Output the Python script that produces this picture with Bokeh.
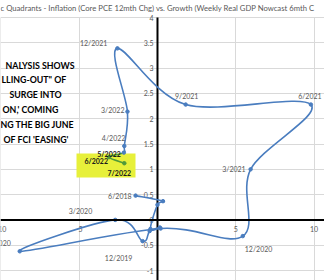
import numpy as np
from bokeh.plotting import figure
from bokeh.models import Label, BoxAnnotation, FixedTicker, Span, ColumnDataSource
from bokeh.core.properties import value
from bokeh.embed import file_html
from bokeh.resources import INLINE

# ---------------- data ----------------
dates = ["6/2018", "9/2018", "12/2018", "3/2019", "6/2019", "9/2019", "12/2019",
         "3/2020", "6/2020", "9/2020", "12/2020", "3/2021", "6/2021", "9/2021",
         "12/2021", "3/2022", "4/2022", "5/2022", "6/2022", "7/2022"]
growth = [-1.4, 0.35, 0.0, -0.45, 0.15, -0.5, -0.95,
          -2.7, -8.8, 0.2, 5.45, 5.95, 9.8, 1.8,
          -2.56, -1.92, -2.12, -2.15, -3.1, -2.12]
inflation = [0.48, 0.37, 0.3, -0.18, -0.15, -0.22, -0.42,
             0.0, -0.62, -0.17, -0.32, 1.0, 2.28, 2.28,
             3.39, 2.14, 1.46, 1.33, 1.24, 1.12]

labelled = ["6/2018", "12/2019", "3/2020", "6/2020", "12/2020", "3/2021", "6/2021",
            "9/2021", "12/2021", "3/2022", "4/2022", "5/2022", "6/2022", "7/2022"]
highlighted = ["5/2022", "6/2022", "7/2022"]

x_ticks = [-10, -5, 5, 10]
x_tick_labels = ["-10", "-5", "5", "10"]
y_ticks = [-1, -0.5, 0, 0.5, 1, 1.5, 2, 2.5, 3, 3.5, 4]
y_tick_labels = ["-1", "-0.5", "0", "0.5", "1", "1.5", "2", "2.5", "3", "3.5", "4"]

title_text = "c Quadrants - Inflation (Core PCE 12mth Chg) vs. Growth (Weekly Real GDP Nowcast 6mth C"
note_lines = ["NALYSIS SHOWS", "LLING-OUT\" OF", "SURGE INTO", "ON,' COMING",
              "NG THE BIG JUNE", "OF FCI 'EASING'"]

# ---------------- layout / styling ----------------
W, H = 324, 280
TOP = 17                      # pixel row of y = 4
X0, X1 = -10.03, 10.67
PPU_Y = 50.6
Y_MAX = y_ticks[-1]
Y1 = Y_MAX + TOP / PPU_Y
Y0 = Y1 - H / PPU_Y
BLUE = "#4a7dbf"
GREEN = "#4f9a3a"
GRAY = "#595959"
FONT = "Lato"


def dx(px):
    return X0 + px / W * (X1 - X0)


def dy(py):
    return Y1 - py / PPU_Y


p = figure(width=W, height=H, x_range=(X0, X1), y_range=(Y0, Y1),
           output_backend="svg", toolbar_location=None,
           x_axis_location=None, y_axis_location=None,
           min_border_left=0, min_border_right=0, min_border_top=0,
           min_border_bottom=0, background_fill_color="white",
           border_fill_color="white", outline_line_color=None)

p.xgrid.ticker = FixedTicker(ticks=x_ticks)
p.ygrid.ticker = FixedTicker(ticks=y_ticks)
p.xgrid.cross_bounds = (Y0, Y_MAX)
p.xgrid.grid_line_color = "#d9d9d9"
p.ygrid.grid_line_color = "#d9d9d9"

# yellow highlight
p.add_layout(BoxAnnotation(left=dx(76), right=dx(135), top=dy(153), bottom=dy(177),
                           fill_color="#e7f03a", fill_alpha=1.0, line_color=None,
                           level="underlay"))

# axes crossing at origin
p.segment(x0=[0], y0=[Y0], x1=[0], y1=[Y_MAX], line_color="black", line_width=2)
p.add_layout(Span(location=0, dimension="width", line_color="black", line_width=2))

# tick labels
p.text(x=[0] * len(y_ticks), y=y_ticks, text=y_tick_labels, x_offset=-4,
       text_align="right", text_baseline="middle", text_font=value(FONT),
       text_font_size="7px", text_color=GRAY)
p.text(x=x_ticks, y=[0] * len(x_ticks), text=x_tick_labels, y_offset=9,
       text_align="center", text_baseline="middle", text_font=value(FONT),
       text_font_size="7px", text_color=GRAY)

# smoothed line (Catmull-Rom style Bezier segments through the data points)
xs = np.array(growth, dtype=float)
ys = np.array(inflation, dtype=float)
n = len(xs)
prev_i = np.r_[0, np.arange(n - 1)]
next_i = np.r_[np.arange(1, n), n - 1]
tx = (xs[next_i] - xs[prev_i]) / 2.0
ty = (ys[next_i] - ys[prev_i]) / 2.0
seg = dict(x0=xs[:-1], y0=ys[:-1], x1=xs[1:], y1=ys[1:],
           cx0=xs[:-1] + tx[:-1] / 3, cy0=ys[:-1] + ty[:-1] / 3,
           cx1=xs[1:] - tx[1:] / 3, cy1=ys[1:] - ty[1:] / 3)
green_from = dates.index(highlighted[0])
is_green = np.arange(n - 1) >= green_from
for mask, col in ((~is_green, BLUE), (is_green, GREEN)):
    src = ColumnDataSource({k: v[mask] for k, v in seg.items()})
    p.bezier(x0="x0", y0="y0", x1="x1", y1="y1", cx0="cx0", cy0="cy0",
             cx1="cx1", cy1="cy1", source=src, line_color=col, line_width=1.6)

pt_colors = [GREEN if i > green_from else BLUE for i in range(n)]
p.scatter(xs, ys, size=3.5, color=pt_colors)

# data labels
label_style = {
    "6/2018": (-4, 0, "right"), "12/2019": (-24, 17, "center"),
    "3/2020": (-23, -9, "right"), "6/2020": (-9, -8, "right"),
    "12/2020": (2, 13, "left"), "3/2021": (-5, 0, "right"),
    "6/2021": (-1, -9, "center"), "9/2021": (1, -9, "center"),
    "12/2021": (-10, -5, "right"), "3/2022": (-3, -2, "right"),
    "4/2022": (1, -8, "right"), "5/2022": (-3, 1, "right"),
    "6/2022": (-1, 4, "right"), "7/2022": (-5, 10, "center"),
}
for d in labelled:
    i = dates.index(d)
    ox, oy, al = label_style[d]
    bold = d in highlighted
    p.text(x=[xs[i]], y=[ys[i]], text=[d], x_offset=ox, y_offset=oy,
           text_align=al, text_baseline="middle", text_font=value(FONT),
           text_font_size="7px", text_font_style="bold" if bold else "normal",
           text_color="#1a1a1a" if bold else GRAY)

# note text
note_pos = [(5, 65), (1, 79), (9, 94), (2, 109), (0, 124), (3, 139)]
for (lx, ly), line in zip(note_pos, note_lines):
    p.add_layout(Label(x=dx(lx), y=dy(ly), text=line, text_align="left",
                       text_baseline="middle", text_font=FONT,
                       text_font_size="8.8px", text_font_style="bold",
                       text_color="black"))

# title
p.text(x=[dx(0)], y=[dy(7)], text=[title_text], text_align="left",
       text_baseline="middle", text_font=value(FONT), text_font_size="7.7px",
       text_color=GRAY)

open("out.html", "w").write(file_html(p, INLINE))
